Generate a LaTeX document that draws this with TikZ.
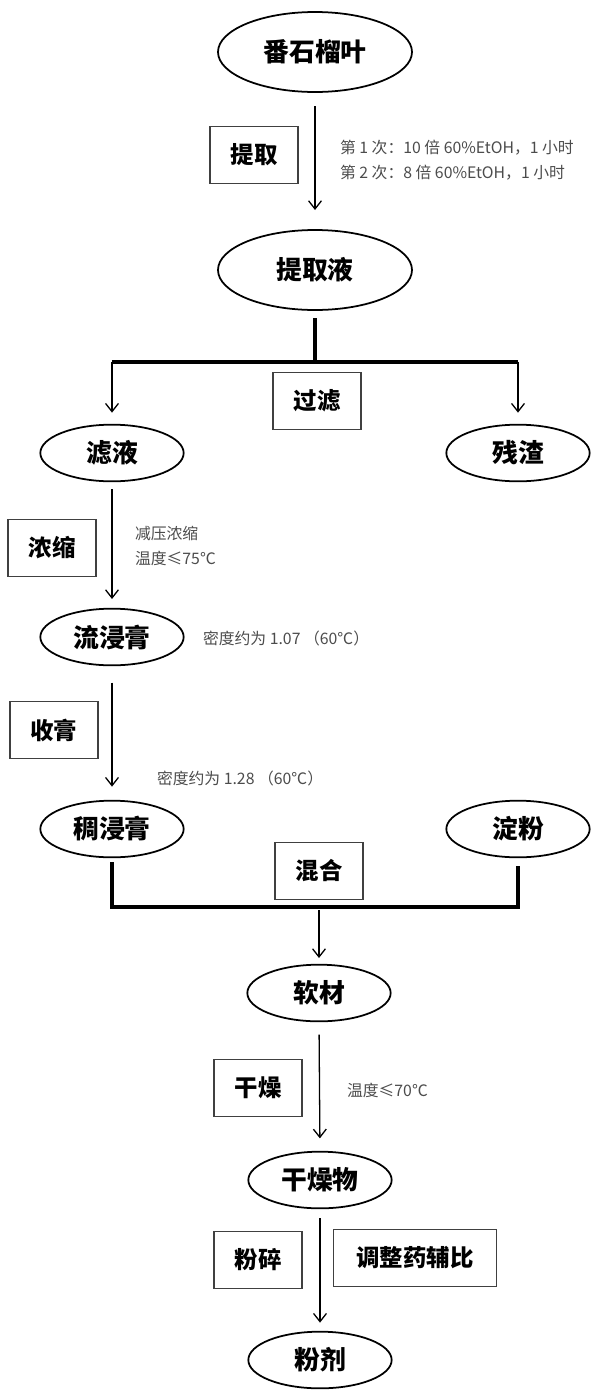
\documentclass[tikz,border=0pt]{standalone}
\usepackage{fontspec}
\newfontfamily\cjk{Noto Sans CJK SC}
\usetikzlibrary{shapes.geometric,arrows.meta}
\begin{document}
\begin{tikzpicture}[x=0.03cm,y=-0.03cm,inner sep=0pt,outer sep=0pt,
>={Straight Barb[length=7pt,width=11pt]},
bigstage/.style={draw,ellipse,line width=1.5pt,minimum width=5.82cm,minimum height=2.4cm,font=\cjk\bfseries\fontsize{22}{26}\selectfont},
stage/.style={draw,ellipse,line width=1.5pt,minimum width=4.3cm,minimum height=1.7cm,font=\cjk\bfseries\fontsize{22}{26}\selectfont},
opbox/.style={draw=black!75,rectangle,line width=1.1pt,minimum width=2.64cm,minimum height=1.7cm,font=\cjk\bfseries\fontsize{20}{24}\selectfont},
note/.style={anchor=west,align=left,text=black!70,font=\cjk\fontsize{13.5}{21}\selectfont},
flow/.style={->,line width=1.1pt},
trunk/.style={line width=3pt}]
\useasboundingbox (0,0) rectangle (600,1397);
% extraction
\draw (315,52) node[bigstage] (leaf) {番石榴叶};
\draw (254,155) node[opbox] (extract) {提取};
\draw (340,160) node[note] (cond1) {第 1 次：10 倍 60\%EtOH，1 小时\\第 2 次：8 倍 60\%EtOH，1 小时};
\draw (315,270) node[bigstage] (liquid) {提取液};
\draw[flow,shorten <=0.42cm,shorten >=0.6cm] (leaf.south) -- (liquid.north);
% filtration
\draw (112,453) node[stage] (filtrate) {滤液};
\draw (518,453) node[stage] (residue) {残渣};
\draw (317,401) node[opbox] (filter) {过滤};
\coordinate (split) at (315,362);
\draw[trunk,shorten <=0.24cm] (liquid.south) -- (split);
\draw[trunk] (filtrate.north |- split) -- (residue.north |- split);
\draw[flow,shorten >=0.36cm] (filtrate.north |- split) -- (filtrate.north);
\draw[flow,shorten >=0.36cm] (residue.north |- split) -- (residue.north);
% concentration
\draw (52,548) node[opbox] (conc) {浓缩};
\draw (135,546) node[note] (cond2) {减压浓缩\\温度≤75℃};
\draw (112,637) node[stage] (fluid) {流浸膏};
\draw (203,638) node[note] (cond3) {密度约为 1.07 （60℃）};
\draw[flow,shorten <=0.24cm,shorten >=0.29cm] (filtrate.south) -- (fluid.north);
\draw (54,730) node[opbox] (thicken) {收膏};
\draw (157,778) node[note] (cond4) {密度约为 1.28 （60℃）};
\draw (112,829) node[stage] (paste) {稠浸膏};
\draw[flow,shorten <=0.52cm,shorten >=0.42cm] (fluid.south) -- (paste.north);
% mixing
\draw (518,829) node[stage] (starch) {淀粉};
\draw (319,871) node[opbox] (mix) {混合};
\coordinate (join) at (319,907);
\draw[trunk,shorten <=0.15cm,shorten >=0.27cm] (paste.south) -- (paste.south |- join) -- (starch.south |- join) -- (starch.south);
\draw (319,993) node[stage] (soft) {软材};
\draw[flow,shorten <=0.09cm,shorten >=0.2cm] (join) -- (soft.north);
% drying
\draw (258,1088) node[opbox] (dry) {干燥};
\draw (347,1090) node[note] (cond5) {温度≤70℃};
\draw (320,1180) node[stage] (dried) {干燥物};
\draw[flow,shorten <=0.4cm,shorten >=0.4cm] (soft.south) -- (dried.north);
% milling
\draw (258,1260) node[opbox] (mill) {粉碎};
\draw (415,1258) node[opbox,minimum width=4.9cm] (ratio) {调整药辅比};
\draw (320,1360) node[stage] (powder) {粉剂};
\draw[flow,shorten <=0.3cm,shorten >=0.27cm] (dried.south) -- (powder.north);
\end{tikzpicture}
\end{document}
